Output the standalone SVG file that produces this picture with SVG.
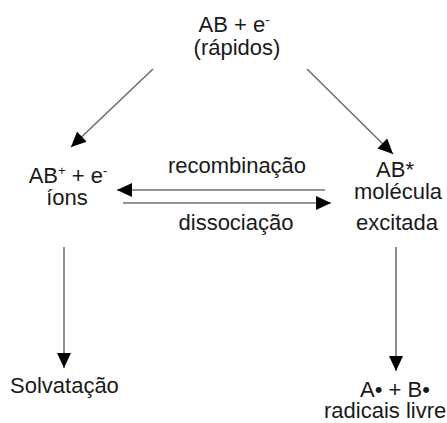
<svg xmlns="http://www.w3.org/2000/svg" width="447" height="423" viewBox="0 0 447 423">
<style>
text{font-family:"Liberation Sans",Arial,sans-serif;font-size:22px;fill:#1a1a1a}
.c{text-anchor:middle}
.sup{font-size:13px}
.ln{stroke:#707070;stroke-width:1.6;fill:none}
</style>
<defs>
<marker id="ah" viewBox="0 0 15 14" refX="15" refY="7" markerWidth="15" markerHeight="14" orient="auto" markerUnits="userSpaceOnUse">
<path d="M0,0 L15,7 L0,14 Z" fill="#000"/>
</marker>
</defs>
<rect width="447" height="423" fill="#fff"/>
<g id="connectors">
<line class="ln" x1="153" y1="69" x2="71" y2="147" marker-end="url(#ah)"/>
<line class="ln" x1="307" y1="69" x2="393" y2="154" marker-end="url(#ah)"/>
<line class="ln" x1="325" y1="190" x2="117" y2="190" marker-end="url(#ah)"/>
<line class="ln" x1="123" y1="203" x2="331" y2="203" marker-end="url(#ah)"/>
<line class="ln" x1="64" y1="247" x2="64" y2="368" marker-end="url(#ah)"/>
<line class="ln" x1="396" y1="247" x2="396" y2="371" marker-end="url(#ah)"/>
<text class="c" x="237" y="173">recombinação</text>
<text class="c" x="236" y="230">dissociação</text>
</g>
<g id="top">
<text class="c" x="234" y="32">AB + e<tspan class="sup" dy="-8">-</tspan></text>
<text class="c" x="237" y="55">(rápidos)</text>
</g>
<g id="ions">
<text class="c" x="68" y="183">AB<tspan class="sup" dy="-8">+</tspan><tspan dy="8"> + e</tspan><tspan class="sup" dy="-8">-</tspan></text>
<text class="c" x="67" y="205">íons</text>
</g>
<g id="excitada">
<text class="c" x="395" y="177">AB*</text>
<text x="354" y="199">molécula</text>
<text class="c" x="397" y="230">excitada</text>
</g>
<g id="solvatacao">
<text x="10" y="393">Solvatação</text>
</g>
<g id="radicais">
<text class="c" x="395" y="397">A• + B•</text>
<text x="324" y="418">radicais livre</text>
</g>
</svg>
